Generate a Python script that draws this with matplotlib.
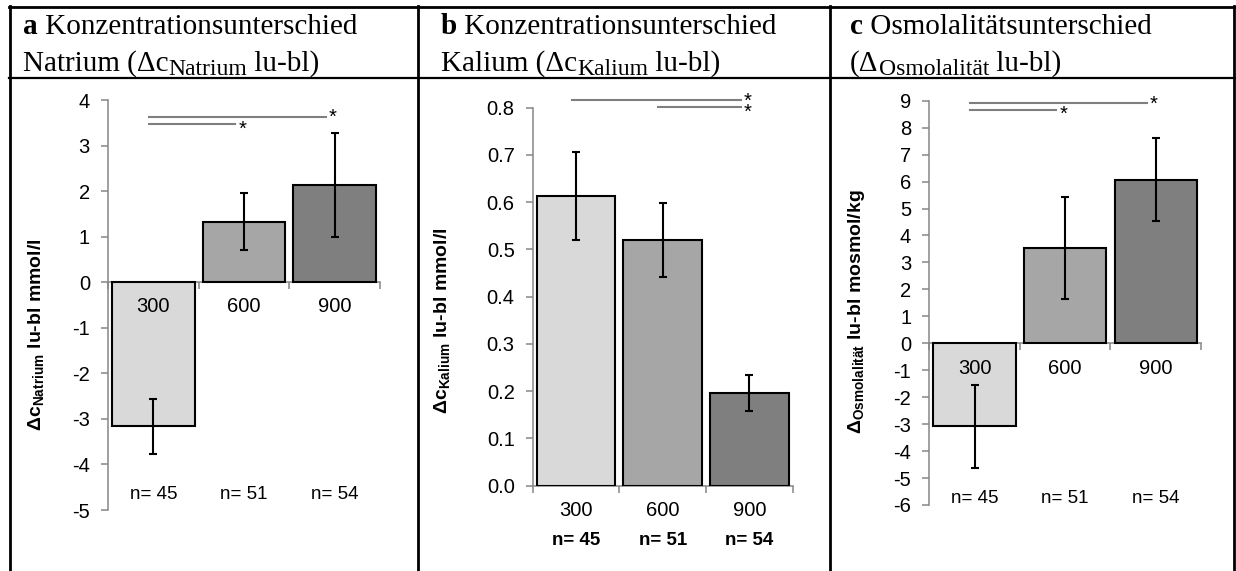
import matplotlib.pyplot as plt
import matplotlib.transforms as mtransforms
from matplotlib.lines import Line2D

# Bildgroesse in Pixel
W, H = 1236, 571

kategorien = ['300', '600', '900']
n_werte = ['n= 45', 'n= 51', 'n= 54']

natrium = [-3.16, 1.33, 2.13]
natrium_fehler = [0.60, 0.62, 1.14]
kalium = [0.613, 0.520, 0.197]
kalium_fehler = [0.093, 0.078, 0.038]
osmo = [-3.08, 3.52, 6.07]
osmo_fehler = [1.53, 1.89, 1.54]

# Signifikanzlinien: (von, bis, hoehe)
natrium_sig = [(0, 2, 3.63), (0, 1, 3.47)]
kalium_sig = [(0, 2, 0.816), (1, 2, 0.801)]
osmo_sig = [(0, 2, 8.9), (0, 1, 8.66)]

farben = ['#d9d9d9', '#a6a6a6', '#7f7f7f']
grau = '#868686'

plt.rcParams['font.family'] = ['Liberation Sans', 'DejaVu Sans']
plt.rcParams['mathtext.fontset'] = 'custom'
plt.rcParams['mathtext.rm'] = 'Liberation Sans'
plt.rcParams['mathtext.sf'] = 'Liberation Sans:bold'

fig = plt.figure(figsize=(W / 100, H / 100), dpi=100)
renderer = fig.canvas.get_renderer()


def achse(links, rechts, oben, unten):
    '''Legt eine Achse an, Angaben in Pixel von oben links.'''
    return fig.add_axes([links / W, 1 - unten / H, (rechts - links) / W, (unten - oben) / H])


def balken(ax, werte, fehler, ymin, ymax, schritt, fmt, sig, n_y, n_fett, label, label_pos):
    x = range(len(kategorien))
    ax.set_axisbelow(False)
    ax.bar(x, werte, width=0.91, color=farben, edgecolor='black', linewidth=1.5, zorder=2)
    ax.errorbar(x, werte, yerr=fehler, fmt='none', ecolor='black', elinewidth=1.5,
                capsize=3, capthick=1.5, zorder=3)
    ax.set_xlim(-0.5, len(kategorien) - 0.5)
    ax.set_ylim(ymin, ymax)
    ticks = [ymin + i * schritt for i in range(round((ymax - ymin) / schritt) + 1)]
    ax.set_yticks(ticks, [fmt.format(t) for t in ticks])
    ax.set_xticks(list(x), kategorien)
    ax.set_xticks([i - 0.5 for i in range(len(kategorien) + 1)], minor=True)
    ax.tick_params(axis='x', which='major', length=0, pad=11, labelsize=14.5)
    ax.tick_params(axis='x', which='minor', length=5, width=1.1, color=grau, direction='out')
    ax.tick_params(axis='y', length=5, width=1.1, color=grau, pad=8, labelsize=14.5)
    for s in ['top', 'right']:
        ax.spines[s].set_visible(False)
    ax.spines['left'].set_color(grau)
    ax.spines['left'].set_linewidth(1.1)
    ax.spines['bottom'].set_color(grau)
    ax.spines['bottom'].set_linewidth(1.1)
    ax.spines['bottom'].set_position(('data', 0))
    ax.spines['bottom'].set_zorder(1)

    # obere Linie: Stern etwas hoeher, untere Linie: Stern etwas tiefer
    hoehen = sorted(h for _, _, h in sig)
    for von, bis, hoehe in sig:
        versatz = -4.5 if hoehe == hoehen[-1] else -7.5
        ax.plot([von - 0.05, bis - 0.1], [hoehe, hoehe], color='#7f7f7f', linewidth=1.5,
                clip_on=False)
        ax.annotate('*', xy=(bis - 0.02, hoehe), xytext=(0, versatz), textcoords='offset points',
                    ha='center', va='baseline', fontsize=14.5, annotation_clip=False)

    trans = mtransforms.blended_transform_factory(ax.transData, ax.transAxes)
    for i, n in enumerate(n_werte):
        ax.text(i, n_y, n, transform=trans, ha='center', va='center', fontsize=13.5,
                fontweight='bold' if n_fett else 'normal')

    ax.set_ylabel(label, fontsize=14, fontweight='bold')
    ax.yaxis.set_label_coords(*label_pos)


def kopfzeile(x, y, teile):
    '''Setzt Textstuecke (text, groesse, tiefer, gewicht) nebeneinander, Pixelangaben.'''
    for text, groesse, tiefer, gewicht in teile:
        t = fig.text(x / W, 1 - (y + tiefer) / H, text, family='Liberation Serif',
                     fontsize=groesse, fontweight=gewicht, va='baseline')
        x = t.get_window_extent(renderer=renderer).x1


ax_a = achse(108, 380, 100, 510)
balken(ax_a, natrium, natrium_fehler, -5, 4, 1, '{:.0f}', natrium_sig, 0.037, False,
       r'Δc$_{\mathsf{Natrium}}$ lu-bl mmol/l', (-0.226, 0.427))

ax_b = achse(532.7, 792.7, 107.7, 485.7)
balken(ax_b, kalium, kalium_fehler, 0.0, 0.8, 0.1, '{:.1f}', kalium_sig, -0.144, True,
       r'Δc$_{\mathsf{Kalium}}$ lu-bl mmol/l', (-0.307, 0.436))

ax_c = achse(929.3, 1201, 100.7, 505)
balken(ax_c, osmo, osmo_fehler, -6, 9, 1, '{:.0f}', osmo_sig, 0.017, False,
       r'Δ$_{\mathsf{Osmolalität}}$ lu-bl mosmol/kg', (-0.23, 0.479))

# Kopfzeile der Tabelle
kopf = [
    (23, 'a', ' Konzentrationsunterschied', 'Natrium (Δc', 'Natrium', ' lu-bl)'),
    (441, 'b', ' Konzentrationsunterschied', 'Kalium (Δc', 'Kalium', ' lu-bl)'),
    (850, 'c', ' Osmolalitätsunterschied', '(Δ', 'Osmolalität', ' lu-bl)'),
]
for x, buchstabe, titel, vor, index, nach in kopf:
    kopfzeile(x, 34, [(buchstabe, 21, 0, 'bold'), (titel, 21, 0, 'normal')])
    kopfzeile(x, 71, [(vor, 21, 0, 'normal'), (index, 17, 4, 'normal'), (nach, 21, 0, 'normal')])


def linie(x0, y0, x1, y1, lw):
    fig.add_artist(Line2D([x0 / W, x1 / W], [1 - y0 / H, 1 - y1 / H], color='black',
                          linewidth=lw, transform=fig.transFigure))


linie(9, 7, 1235, 7, 2)
linie(9, 78, 1235, 78, 1.6)
for x in [10, 417.5, 830, 1234]:
    linie(x, 6, x, H, 2)

fig.savefig('out.png', dpi=100)
